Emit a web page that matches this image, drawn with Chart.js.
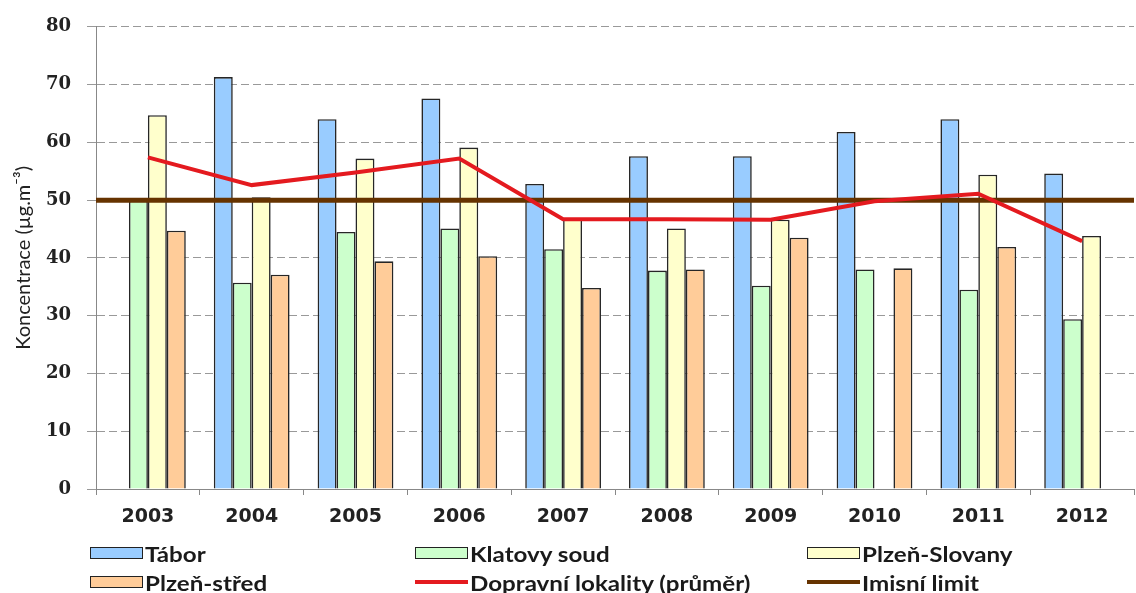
<!DOCTYPE html>
<html lang="cs">
<head>
  <meta charset="UTF-8" />
  <title>Koncentrace – dopravní lokality</title>
  <script src="https://cdn.jsdelivr.net/npm/chart.js"></script>
  <style>
    body {
      margin: 0;
      background: #fff;
      font-family: Lato, sans-serif;
    }
    .wrap {
      position: relative;
      width: 1136px;
      height: 593px;
    }
    #chart {
      position: absolute;
      left: 0;
      top: 0;
    }
    .item {
      position: absolute;
      display: flex;
      align-items: center;
      height: 24px;
      font-weight: bold;
      font-size: 21px;
      color: #1a1a1a;
      white-space: nowrap;
    }
    .item .txt {
      display: inline-block;
      transform: scaleX(1.15);
      transform-origin: left center;
    }
    .swatch {
      width: 53px;
      height: 12px;
      border: 1.5px solid #222;
      box-sizing: border-box;
      margin-right: 2px;
    }
    .swatch.line {
      height: 4px;
      border: none;
    }
  </style>
</head>
<body>
  <div class="wrap">
    <canvas id="chart" width="1136" height="593"></canvas>
    <div id="legend"></div>
  </div>

  <script>
    const years = ['2003', '2004', '2005', '2006', '2007', '2008', '2009', '2010', '2011', '2012'];
    const tabor   = [null, 71.3, 64.0, 67.6, 52.8, 57.6, 57.6, 61.8, 64.0, 54.6];
    const klatovy = [49.9, 35.7, 44.5, 45.1, 41.5, 37.8, 35.2, 38.0, 34.5, 29.4];
    const slovany = [64.7, 50.5, 57.2, 59.1, 46.7, 45.1, 46.6, null, 54.4, 43.8];
    const stred   = [44.7, 37.1, 39.4, 40.3, 34.8, 38.0, 43.5, 38.2, 41.9, null];
    const prumer  = [57.4, 52.6, 54.8, 57.2, 46.7, 46.7, 46.6, 49.8, 51.1, 42.9];
    const imisniLimit = 50;
    const yMin = 0, yMax = 80, yStep = 10;

    const colors = {
      tabor: '#99CCFF',
      klatovy: '#CCFFCC',
      slovany: '#FFFFCC',
      stred: '#FFCC99',
      prumer: '#E41A1F',
      limit: '#663300'
    };

    const barStyle = {
      borderColor: '#262626', borderWidth: 1.6, order: 2,
      categoryPercentage: 0.73, barPercentage: 1.0
    };

    const datasets = [
      { label: 'Tábor', data: tabor, backgroundColor: colors.tabor, ...barStyle },
      { label: 'Klatovy soud', data: klatovy, backgroundColor: colors.klatovy, ...barStyle },
      { label: 'Plzeň-Slovany', data: slovany, backgroundColor: colors.slovany, ...barStyle },
      { label: 'Plzeň-střed', data: stred, backgroundColor: colors.stred, ...barStyle },
      {
        type: 'line', label: 'Dopravní lokality (průměr)', data: prumer,
        borderColor: colors.prumer, borderWidth: 4, pointRadius: 0, tension: 0, order: 0
      }
    ];
    const limitLabel = 'Imisní limit';

    // limit line across the whole plot, drawn just before the red average line
    const limitLine = {
      id: 'limitLine',
      beforeDatasetDraw(chart, args) {
        if (args.index !== 4) return;
        const { ctx, chartArea } = chart;
        const y = chart.scales.y.getPixelForValue(imisniLimit);
        ctx.save();
        ctx.strokeStyle = colors.limit;
        ctx.lineWidth = 5;
        ctx.beginPath();
        ctx.moveTo(chartArea.left, y);
        ctx.lineTo(chartArea.right, y);
        ctx.stroke();
        ctx.restore();
      }
    };

    new Chart(document.getElementById('chart'), {
      type: 'bar',
      data: { labels: years, datasets },
      plugins: [limitLine],
      options: {
        responsive: false,
        animation: false,
        layout: { padding: { left: 0, right: 2, top: 25, bottom: 54 } },
        plugins: {
          legend: { display: false },
          tooltip: { enabled: false }
        },
        scales: {
          x: {
            grid: { display: true, drawOnChartArea: false, tickLength: 6, color: '#888' },
            border: { color: '#888' },
            ticks: {
              color: '#222',
              padding: 11,
              font: { family: 'DejaVu Sans', weight: 'bold', size: 19 }
            },
            afterFit: s => { s.height = 50; }
          },
          y: {
            min: yMin, max: yMax,
            ticks: {
              stepSize: yStep,
              color: '#222',
              padding: 16,
              font: { family: 'DejaVu Serif', weight: 'bold', size: 18 }
            },
            grid: { color: '#999', tickLength: 9 },
            border: { color: '#888', dash: [8, 4] },
            title: {
              display: true,
              text: 'Koncentrace (µg.m⁻³)',
              color: '#222',
              font: { family: 'Lato', size: 20 },
              padding: { top: 12, bottom: 0 }
            },
            afterFit: s => { s.width = 96; }
          }
        }
      }
    });

    // legend in three columns, two rows
    const legendCols = [90, 415, 807];
    const legendRows = [541, 570];
    const legendItems = datasets.map(ds => ({
      label: ds.label,
      line: ds.type === 'line',
      color: ds.type === 'line' ? ds.borderColor : ds.backgroundColor
    }));
    legendItems.push({ label: limitLabel, line: true, color: colors.limit });

    const legend = document.getElementById('legend');
    legendItems.forEach((it, i) => {
      const item = document.createElement('div');
      item.className = 'item';
      item.style.left = legendCols[i % 3] + 'px';
      item.style.top = legendRows[Math.floor(i / 3)] + 'px';
      const sw = document.createElement('span');
      sw.className = it.line ? 'swatch line' : 'swatch';
      sw.style.background = it.color;
      const txt = document.createElement('span');
      txt.className = 'txt';
      txt.textContent = it.label;
      item.appendChild(sw);
      item.appendChild(txt);
      legend.appendChild(item);
    });
  </script>
</body>
</html>
